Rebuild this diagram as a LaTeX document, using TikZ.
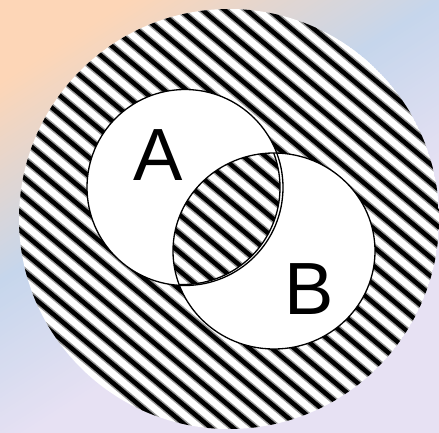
\documentclass[tikz,border=0pt]{standalone}
\usepackage{fontspec}
\setmainfont{Liberation Sans}
\definecolor{peach}{HTML}{FDD6B7}
\definecolor{skyb}{HTML}{C6D6EC}
\definecolor{lav}{HTML}{E7E1F3}
\tikzset{
  outline/.style={draw=black, line width=1.3pt},
  stripesoft/.style={line width=7.4pt, draw=black!40},
  stripecore/.style={line width=4.4pt, draw=black},
  letter/.style={font=\fontsize{74}{74}\selectfont, inner sep=0pt, anchor=base}
}
\newcommand\mystripes{%
  \begin{scope}[shift={(229,213)}, rotate=-40]
    \foreach \k in {-18,...,18} {
      \draw[stripesoft] (-260,\k*14.3) -- (260,\k*14.3);
      \draw[stripecore] (-260,\k*14.3) -- (260,\k*14.3);
    }
  \end{scope}}
\begin{document}
\begin{tikzpicture}[x=1pt,y=1pt]
\useasboundingbox (0,0) rectangle (439,432);
% background gradient, built from thin bands
\begin{scope}
  \clip (0,0) rectangle (439,432);
  \begin{scope}[shift={(0,432)}, rotate=-57.47]
    \foreach \i in {0,...,159} {
      \pgfmathsetmacro\t{\i*4}
      \ifdim\t pt<70pt
        \colorlet{bandc}{peach}
      \else\ifdim\t pt<236pt
        \pgfmathsetmacro\p{(\t-70)/166*100}
        \colorlet{bandc}{skyb!\p!peach}
      \else\ifdim\t pt<380pt
        \pgfmathsetmacro\p{(\t-236)/144*100}
        \colorlet{bandc}{lav!\p!skyb}
      \else
        \colorlet{bandc}{lav}
      \fi\fi\fi
      \fill[bandc] (\t-0.3,-320) rectangle (\t+4.3,460);
    }
  \end{scope}
\end{scope}
% universe with stripes
\begin{scope}
  \clip (229,213) circle (210);
  \fill[white] (229,213) circle (210);
  \mystripes
\end{scope}
% white sets
\fill[white] (185,244.5) circle (98);
\fill[white] (274,181) ellipse [x radius=101, y radius=98];
% striped intersection
\begin{scope}
  \clip (274,181) ellipse [x radius=101, y radius=98];
  \clip (183,244.5) circle (97);
  \fill[white] (0,0) rectangle (439,432);
  \mystripes
\end{scope}
% outlines
\draw[outline] (185,244.5) circle (98);
\draw[outline] (274,181) ellipse [x radius=101, y radius=98];
\begin{scope}
  \clip (274,181) ellipse [x radius=101, y radius=98];
  \draw[outline] (183,244.5) circle (97);
\end{scope}
% labels
\node[letter] (a) at (158,252) {A};
\node[letter] (b) at (309,118) {B};
\end{tikzpicture}
\end{document}
